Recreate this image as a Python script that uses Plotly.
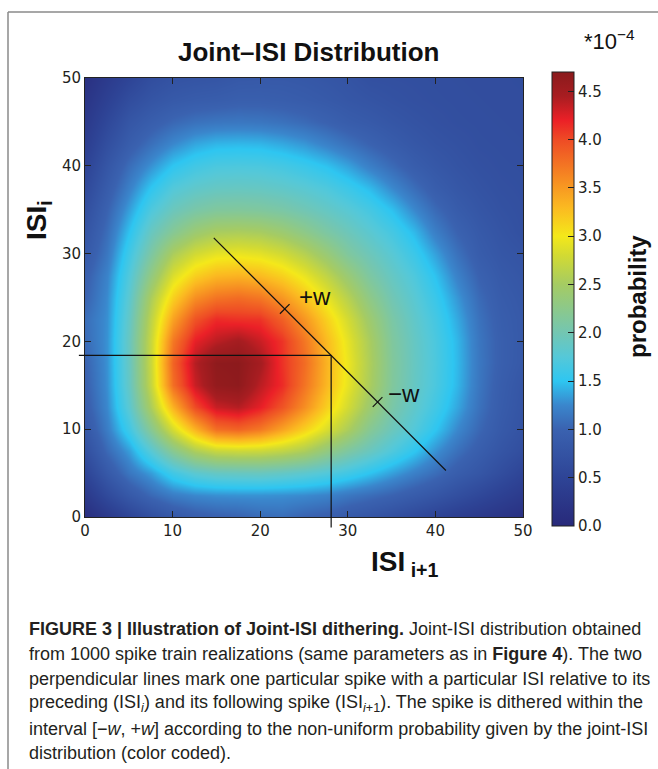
import plotly.graph_objects as go

# ---------------- data ----------------
ISI_NEXT = [0, 2.5, 5, 7.5, 10, 12.5, 15, 17.5, 20, 22.5, 25, 27.5, 30, 32.5, 35,
            37.5, 40, 42.5, 45, 47.5, 50]          # x grid: ISI_{i+1}
ISI_PREV = [0, 2.5, 5, 7.5, 10, 12.5, 15, 17.5, 20, 22.5, 25, 27.5, 30, 32.5, 35,
            37.5, 40, 42.5, 45, 47.5, 50]          # y grid: ISI_i

# probability (units of 1e-4); one row per ISI_i value, columns follow ISI_NEXT
PROB = [
    [0.10, 0.30, 0.50, 0.68, 0.82, 0.92, 0.97, 1.00, 1.06, 1.08, 1.00, 0.95, 0.85, 0.77, 0.68, 0.58, 0.48, 0.38, 0.30, 0.22, 0.14],
    [0.30, 0.60, 0.85, 1.05, 1.19, 1.26, 1.29, 1.30, 1.30, 1.29, 1.27, 1.23, 1.15, 1.08, 1.00, 0.90, 0.80, 0.68, 0.56, 0.44, 0.33],
    [0.50, 0.85, 1.14, 1.34, 1.62, 1.80, 1.88, 1.90, 1.91, 1.87, 1.81, 1.73, 1.62, 1.49, 1.35, 1.21, 1.08, 0.92, 0.80, 0.65, 0.50],
    [0.68, 1.05, 1.34, 1.77, 2.21, 2.55, 2.72, 2.75, 2.74, 2.67, 2.55, 2.32, 2.10, 1.91, 1.71, 1.51, 1.30, 1.10, 0.93, 0.78, 0.66],
    [0.82, 1.19, 1.62, 2.21, 2.83, 3.35, 3.78, 3.85, 3.72, 3.45, 3.16, 2.86, 2.55, 2.19, 1.94, 1.74, 1.51, 1.26, 1.04, 0.86, 0.74],
    [0.92, 1.26, 1.80, 2.55, 3.35, 4.00, 4.33, 4.40, 4.22, 3.95, 3.58, 3.17, 2.80, 2.41, 2.07, 1.84, 1.63, 1.38, 1.11, 0.90, 0.77],
    [0.97, 1.29, 1.88, 2.72, 3.78, 4.33, 4.62, 4.66, 4.38, 4.15, 3.75, 3.32, 2.92, 2.53, 2.14, 1.89, 1.69, 1.44, 1.14, 0.92, 0.79],
    [1.00, 1.30, 1.90, 2.75, 3.85, 4.40, 4.66, 4.68, 4.48, 4.12, 3.80, 3.35, 2.95, 2.55, 2.15, 1.90, 1.70, 1.45, 1.15, 0.95, 0.84],
    [1.06, 1.30, 1.91, 2.74, 3.72, 4.22, 4.38, 4.48, 4.33, 4.11, 3.73, 3.30, 2.91, 2.52, 2.13, 1.89, 1.69, 1.44, 1.14, 0.95, 0.85],
    [1.08, 1.29, 1.87, 2.67, 3.45, 3.95, 4.15, 4.12, 4.11, 3.87, 3.53, 3.16, 2.80, 2.42, 2.08, 1.85, 1.65, 1.39, 1.11, 0.93, 0.85],
    [1.00, 1.27, 1.81, 2.55, 3.16, 3.58, 3.75, 3.80, 3.73, 3.53, 3.25, 2.95, 2.62, 2.27, 1.99, 1.79, 1.58, 1.32, 1.06, 0.90, 0.83],
    [0.95, 1.23, 1.73, 2.32, 2.86, 3.17, 3.32, 3.35, 3.30, 3.16, 2.95, 2.69, 2.39, 2.10, 1.89, 1.71, 1.49, 1.22, 0.99, 0.86, 0.80],
    [0.85, 1.15, 1.62, 2.10, 2.55, 2.80, 2.92, 2.95, 2.91, 2.80, 2.62, 2.39, 2.13, 1.95, 1.78, 1.59, 1.36, 1.11, 0.91, 0.81, 0.76],
    [0.77, 1.08, 1.49, 1.91, 2.19, 2.41, 2.53, 2.55, 2.52, 2.42, 2.27, 2.10, 1.95, 1.80, 1.65, 1.45, 1.20, 1.00, 0.86, 0.77, 0.70],
    [0.68, 1.00, 1.35, 1.71, 1.94, 2.07, 2.14, 2.15, 2.13, 2.08, 1.99, 1.89, 1.78, 1.65, 1.48, 1.26, 1.06, 0.90, 0.80, 0.73, 0.69],
    [0.58, 0.90, 1.21, 1.51, 1.74, 1.84, 1.89, 1.90, 1.89, 1.85, 1.79, 1.71, 1.59, 1.45, 1.26, 1.08, 0.92, 0.82, 0.75, 0.70, 0.68],
    [0.48, 0.80, 1.08, 1.30, 1.51, 1.63, 1.69, 1.70, 1.69, 1.65, 1.58, 1.49, 1.36, 1.20, 1.06, 0.92, 0.83, 0.76, 0.71, 0.68, 0.67],
    [0.38, 0.68, 0.92, 1.10, 1.26, 1.38, 1.44, 1.45, 1.44, 1.39, 1.32, 1.22, 1.11, 1.00, 0.90, 0.82, 0.76, 0.72, 0.68, 0.67, 0.66],
    [0.30, 0.56, 0.80, 0.93, 1.04, 1.11, 1.14, 1.15, 1.14, 1.11, 1.06, 0.99, 0.91, 0.86, 0.80, 0.75, 0.71, 0.68, 0.67, 0.66, 0.65],
    [0.22, 0.44, 0.65, 0.78, 0.86, 0.90, 0.92, 0.95, 0.95, 0.93, 0.90, 0.86, 0.81, 0.77, 0.73, 0.70, 0.68, 0.67, 0.66, 0.65, 0.65],
    [0.14, 0.33, 0.50, 0.66, 0.74, 0.77, 0.79, 0.84, 0.85, 0.85, 0.83, 0.80, 0.76, 0.70, 0.69, 0.68, 0.67, 0.66, 0.65, 0.65, 0.64],
]

Z_MAX = 4.7
CB_TICKS = [0.0, 0.5, 1.0, 1.5, 2.0, 2.5, 3.0, 3.5, 4.0, 4.5]
AX_TICKS = [0, 10, 20, 30, 40, 50]
AX_RANGE = [0, 50]

# the marked spike: (ISI_{i+1}, ISI_i) and the dithering segment
SPIKE = (28.1, 18.4)
DIAG_START = (14.7, 31.8)
DIAG_END = (41.2, 5.3)
W_PLUS = (22.8, 23.7)
W_MINUS = (33.4, 13.1)
LINE_OVERHANG = 0.7   # how far the perpendicular lines run past the axes (data units)

# jet-like colour scale as seen on the colour bar
CS_VALUES = [0.0, 0.5, 1.0, 1.25, 1.5, 1.75, 2.0, 2.5, 2.8, 3.0, 3.3, 3.6, 4.0, 4.2, 4.45, 4.7]
CS_COLORS = ['#28297a', '#2e4496', '#3a62b0', '#3a86cc', '#2ec6f1', '#55c8d8', '#73c6b2',
             '#a5cb63', '#d2da33', '#f4e81a', '#fbb921', '#f68a22', '#ee4b25', '#eb2027',
             '#a81d21', '#8a1a1c']

CAPTION = [
    "<b>FIGURE 3 | Illustration of Joint-ISI dithering.</b> Joint-ISI distribution obtained",
    "from 1000 spike train realizations (same parameters as in <b>Figure 4</b>). The two",
    "perpendicular lines mark one particular spike with a particular ISI relative to its",
    "preceding (ISI<sub><i>i</i></sub>) and its following spike (ISI<sub><i>i</i>+1</sub>). The spike is dithered within the",
    "interval [−<i>w</i>, +<i>w</i>] according to the non-uniform probability given by the joint-ISI",
    "distribution (color coded).",
]

# ---------------- layout geometry (pixels) ----------------
FW, FH = 658, 769
ML, MR, MT, MB = 85, 135, 78, 252
PW = FW - ML - MR
PH = FH - MT - MB


def px(x):
    return (x - ML) / PW


def py(y):
    return (FH - MB - y) / PH


def dom(v):
    return (v - AX_RANGE[0]) / (AX_RANGE[1] - AX_RANGE[0])


TICK_FONT = dict(family="DejaVu Sans", size=15, color="#231f20")
SANS = "Liberation Sans, Arial, Helvetica, sans-serif"
INK = "#111111"

colorscale = [[v / Z_MAX, c] for v, c in zip(CS_VALUES, CS_COLORS)]

fig = go.Figure()
fig.add_trace(go.Heatmap(
    x=ISI_NEXT, y=ISI_PREV, z=PROB,
    zmin=0, zmax=Z_MAX, zsmooth="best",
    colorscale=colorscale,
    hoverinfo="skip",
    colorbar=dict(
        x=px(552), xanchor="left", xpad=0,
        y=py(299), yanchor="middle", ypad=0,
        len=(526 - 72) / PH, lenmode="fraction",
        thickness=22, thicknessmode="pixels",
        outlinewidth=1, outlinecolor="#222222",
        ticks="inside", ticklen=6, tickcolor="#222222",
        tickvals=CB_TICKS, ticktext=[f"{v:.1f}" for v in CB_TICKS],
        tickfont=TICK_FONT,
    ),
))

# dithering line and +-w tick marks
TICK_HALF = 0.55
seg_x = [DIAG_START[0], DIAG_END[0], None,
         W_PLUS[0] - TICK_HALF, W_PLUS[0] + TICK_HALF, None,
         W_MINUS[0] - TICK_HALF, W_MINUS[0] + TICK_HALF]
seg_y = [DIAG_START[1], DIAG_END[1], None,
         W_PLUS[1] - TICK_HALF, W_PLUS[1] + TICK_HALF, None,
         W_MINUS[1] - TICK_HALF, W_MINUS[1] + TICK_HALF]
fig.add_trace(go.Scatter(x=seg_x, y=seg_y, mode="lines",
                         line=dict(color=INK, width=1.2),
                         hoverinfo="skip", showlegend=False))

axis_common = dict(
    range=AX_RANGE, tickvals=AX_TICKS, ticks="inside", ticklen=6,
    tickcolor="#222222", showline=True, linecolor="#222222", linewidth=1,
    mirror="ticks", showgrid=False, zeroline=False, tickfont=TICK_FONT,
)

shapes = [
    # perpendicular lines (run slightly past the axes as in the original)
    dict(type="line", xref="x domain", yref="y domain",
         x0=dom(-LINE_OVERHANG), x1=dom(SPIKE[0]), y0=dom(SPIKE[1]), y1=dom(SPIKE[1]),
         line=dict(color=INK, width=1.2), layer="above"),
    dict(type="line", xref="x domain", yref="y domain",
         x0=dom(SPIKE[0]), x1=dom(SPIKE[0]), y0=dom(SPIKE[1]), y1=dom(-1.2),
         line=dict(color=INK, width=1.2), layer="above"),
    # figure frame (grey)
    dict(type="line", xref="paper", yref="paper", x0=px(8), x1=px(8), y0=py(12), y1=py(FH),
         line=dict(color="#8a8a8a", width=1.5)),
    dict(type="line", xref="paper", yref="paper", x0=px(8), x1=px(FW), y0=py(12), y1=py(12),
         line=dict(color="#8a8a8a", width=1.5)),
]

annotations = [
    dict(text="<b>Joint–ISI Distribution</b>", x=px(308), y=py(52), xref="paper", yref="paper",
         showarrow=False, font=dict(family=SANS, size=26, color=INK), xanchor="center", yanchor="middle"),
    dict(text="*10<sup>−4</sup>", x=px(609), y=py(40), xref="paper", yref="paper",
         showarrow=False, font=dict(family=SANS, size=22, color=INK), xanchor="center", yanchor="middle"),
    dict(text="<b>probability</b>", x=px(637), y=py(297), xref="paper", yref="paper", textangle=-90,
         showarrow=False, font=dict(family=SANS, size=24, color=INK), xanchor="center", yanchor="middle"),
    dict(text="<b>ISI</b><sub><b>i</b></sub>", x=px(38), y=py(220), xref="paper", yref="paper", textangle=-90,
         showarrow=False, font=dict(family=SANS, size=28, color=INK), xanchor="center", yanchor="middle"),
    dict(text="<b>ISI</b><sub><b> i+1</b></sub>", x=px(405), y=py(563), xref="paper", yref="paper",
         showarrow=False, font=dict(family=SANS, size=28, color=INK), xanchor="center", yanchor="middle"),
    dict(text="+w", x=W_PLUS[0] + 3.4, y=W_PLUS[1] + 1.4, xref="x", yref="y",
         showarrow=False, font=dict(family=SANS, size=24, color=INK), xanchor="center", yanchor="middle"),
    dict(text="−w", x=W_MINUS[0] + 3.0, y=W_MINUS[1] + 1.0, xref="x", yref="y",
         showarrow=False, font=dict(family=SANS, size=24, color=INK), xanchor="center", yanchor="middle"),
]

CAP_Y0, CAP_DY = 628.5, 25.0
for k, line in enumerate(CAPTION):
    annotations.append(dict(
        text=line, x=px(27), y=py(CAP_Y0 + k * CAP_DY), xref="paper", yref="paper",
        showarrow=False, xanchor="left", yanchor="middle", align="left",
        font=dict(family=SANS, size=18, color="#231f20"),
    ))

fig.update_layout(
    width=FW, height=FH, autosize=False,
    margin=dict(l=ML, r=MR, t=MT, b=MB, pad=0),
    paper_bgcolor="white", plot_bgcolor="white",
    xaxis=axis_common, yaxis=axis_common,
    shapes=shapes, annotations=annotations, showlegend=False,
)

fig.write_html("out.html", include_plotlyjs=True, full_html=True,
               config={"displayModeBar": False})
